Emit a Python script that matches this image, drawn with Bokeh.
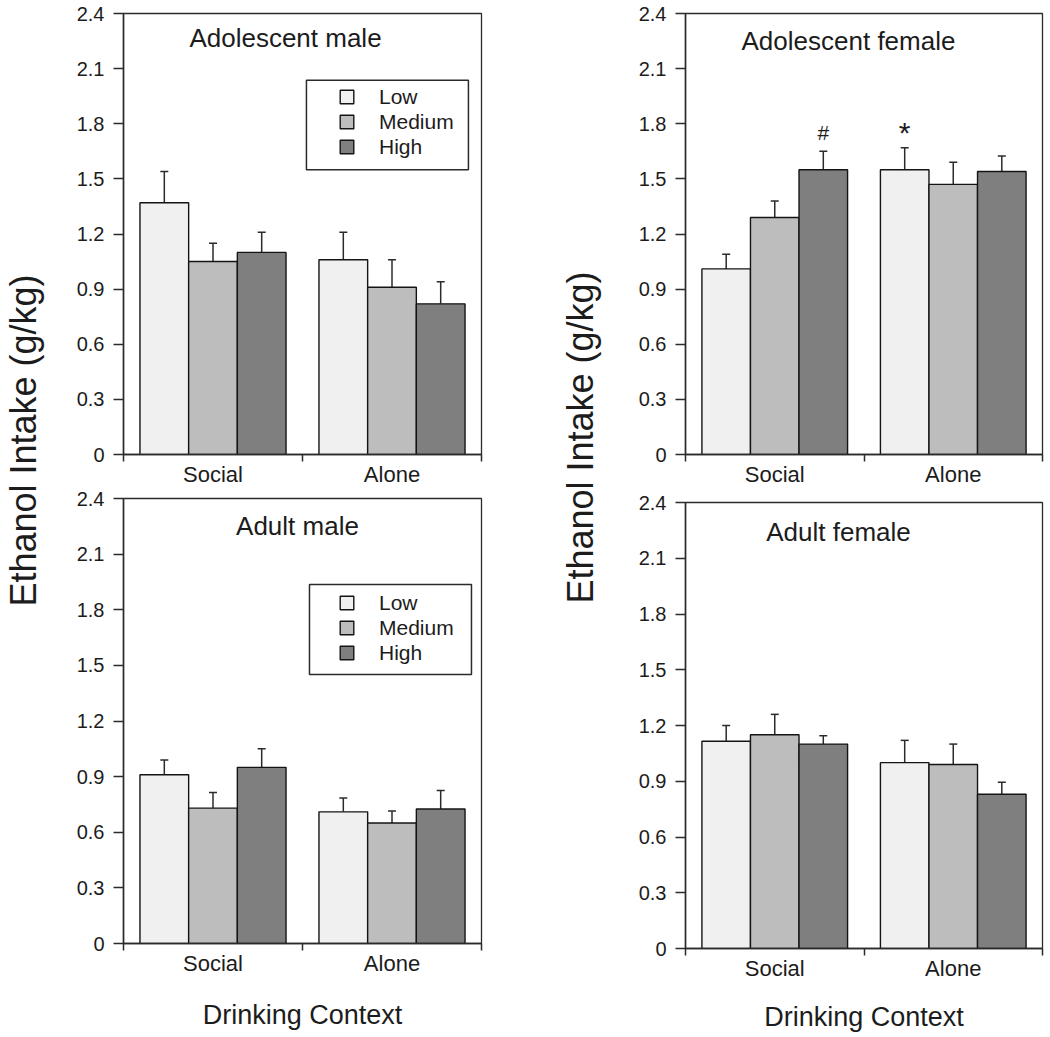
import math
from bokeh.plotting import figure
from bokeh.models import (ColumnDataSource, Range1d, FixedTicker, Whisker, TeeHead,
                          Label, BoxAnnotation)
from bokeh.layouts import row, column
from bokeh.embed import file_html
from bokeh.resources import INLINE

# ---------------- data ----------------
contexts = ["Social", "Alone"]
levels = ["Low", "Medium", "High"]
y_ticks = [0, 0.3, 0.6, 0.9, 1.2, 1.5, 1.8, 2.1, 2.4]
y_tick_labels = ["0", "0.3", "0.6", "0.9", "1.2", "1.5", "1.8", "2.1", "2.4"]
x_axis_title = "Drinking Context"
y_axis_title = "Ethanol Intake (g/kg)"

# mean ethanol intake (g/kg), one list per level, values for [Social, Alone]
adol_male_low = [1.37, 1.06]
adol_male_medium = [1.05, 0.91]
adol_male_high = [1.10, 0.82]
adol_male_low_sem = [0.17, 0.15]
adol_male_medium_sem = [0.10, 0.15]
adol_male_high_sem = [0.11, 0.12]

adol_female_low = [1.01, 1.55]
adol_female_medium = [1.29, 1.47]
adol_female_high = [1.55, 1.54]
adol_female_low_sem = [0.08, 0.12]
adol_female_medium_sem = [0.09, 0.12]
adol_female_high_sem = [0.10, 0.085]

adult_male_low = [0.91, 0.71]
adult_male_medium = [0.73, 0.65]
adult_male_high = [0.95, 0.725]
adult_male_low_sem = [0.08, 0.075]
adult_male_medium_sem = [0.085, 0.065]
adult_male_high_sem = [0.10, 0.10]

adult_female_low = [1.115, 1.00]
adult_female_medium = [1.15, 0.99]
adult_female_high = [1.10, 0.83]
adult_female_low_sem = [0.085, 0.12]
adult_female_medium_sem = [0.11, 0.11]
adult_female_high_sem = [0.045, 0.065]

# significance markers, adolescent female panel: (context, level, symbol)
adol_female_marks = [("Social", "High", "#"), ("Alone", "Low", "*")]

# ---------------- style ----------------
FONT = "Liberation Sans"
TXT = "#1c1c1c"
AX = "#2b2b2b"
BAR_LINE = "#141414"
level_colors = ["#f0f0f0", "#bdbdbd", "#7f7f7f"]
BAR_W = 0.272
TOTAL_H = 1037


def panel(name, means, sems, width, height, borders, title_xy,
          legend_spec=None, xlabel=None, xlabel_standoff=20, marks=None):
    bl, br, bt, bb = borders
    n = len(contexts)
    centers = [i + 0.5 for i in range(n)]
    edges = list(range(n + 1))
    p = figure(width=width, height=height, title=None,
               x_range=Range1d(0, n), y_range=Range1d(y_ticks[0], y_ticks[-1]),
               output_backend="svg", toolbar_location=None,
               min_border_left=bl, min_border_right=br,
               min_border_top=bt, min_border_bottom=bb)
    p.grid.visible = False
    p.outline_line_color = AX
    p.outline_line_width = 1.3
    p.outline_line_alpha = 1.0

    offsets = [(j - (len(levels) - 1) / 2) * BAR_W for j in range(len(levels))]
    uppers_all = []
    for j, lvl in enumerate(levels):
        uppers = [m + s for m, s in zip(means[j], sems[j])]
        uppers_all.append(uppers)
        src = ColumnDataSource(dict(
            xb=[c + offsets[j] for c in centers],
            top=means[j],
            upper=uppers,
        ))
        kw = dict(legend_label=lvl) if legend_spec else {}
        p.vbar(x="xb", top="top", bottom=0, width=BAR_W, source=src,
               fill_color=level_colors[j], line_color=BAR_LINE, line_width=1.4, **kw)
        p.add_layout(Whisker(base="xb", lower="top", upper="upper", source=src,
                             dimension="height", line_color=AX, line_width=1.5,
                             lower_head=None,
                             upper_head=TeeHead(size=8, line_color=AX, line_width=1.5)))

    # axes
    p.axis.axis_line_color = AX
    p.axis.axis_line_width = 1.5
    p.axis.major_tick_line_color = AX
    p.axis.major_tick_line_width = 1.5
    p.axis.major_label_text_font = FONT
    p.axis.major_label_text_color = TXT

    xa = p.xaxis[0]
    xa.ticker = FixedTicker(ticks=centers, minor_ticks=edges)
    xa.major_label_overrides = {c: t for c, t in zip(centers, contexts)}
    xa.major_tick_out = 0
    xa.major_tick_in = 0
    xa.minor_tick_out = 7
    xa.minor_tick_in = 0
    xa.minor_tick_line_color = AX
    xa.minor_tick_line_width = 1.5
    xa.major_label_standoff = 0
    xa.major_label_text_font_size = "22px"

    ya = p.yaxis[0]
    ya.ticker = FixedTicker(ticks=y_ticks)
    ya.major_label_overrides = dict(zip(y_ticks, y_tick_labels))
    ya.major_tick_out = 10
    ya.major_tick_in = 0
    ya.minor_tick_out = 0
    ya.minor_tick_in = 0
    ya.major_label_standoff = 9
    ya.major_label_text_font_size = "20px"

    if xlabel:
        xa.axis_label = xlabel
        xa.axis_label_text_font = FONT
        xa.axis_label_text_font_size = "27px"
        xa.axis_label_text_font_style = "normal"
        xa.axis_label_text_color = TXT
        xa.axis_label_standoff = xlabel_standoff

    p.add_layout(Label(x=title_xy[0], y=title_xy[1], text=name,
                       text_align="center", text_baseline="middle",
                       text_font=FONT, text_font_size="26px", text_color=TXT))

    if legend_spec:
        (vx, vy), (l0, r0, t0, b0) = legend_spec
        lg = p.legend[0]
        lg.location = (vx, vy)
        lg.border_line_color = None
        lg.background_fill_alpha = 0
        lg.padding = 0
        lg.margin = 0
        lg.spacing = 0
        lg.glyph_width = 17
        lg.glyph_height = 17
        lg.label_height = 25
        lg.label_standoff = 24
        lg.label_text_font = FONT
        lg.label_text_font_size = "21px"
        lg.label_text_color = TXT
        p.add_layout(BoxAnnotation(left=l0, right=r0, top=t0, bottom=b0,
                                   fill_color=None, fill_alpha=0,
                                   line_color=AX, line_alpha=1.0, line_width=1.5))

    if marks:
        level_y = max(max(u) for u in uppers_all) + 0.08
        for ctx, lvl, sym in marks:
            i = contexts.index(ctx)
            j = levels.index(lvl)
            p.add_layout(Label(x=centers[i] + offsets[j], y=level_y, text=sym,
                               text_align="center", text_baseline="alphabetic",
                               text_font=FONT,
                               text_font_size="21px" if sym == "#" else "30px",
                               text_color=TXT))
    return p


def label_fig(width, cx, cy):
    p = figure(width=width, height=TOTAL_H, title=None,
               x_range=Range1d(0, width), y_range=Range1d(0, TOTAL_H),
               min_border=0, x_axis_location=None, y_axis_location=None,
               toolbar_location=None, output_backend="svg")
    p.grid.visible = False
    p.outline_line_color = None
    p.add_layout(Label(x=cx, y=TOTAL_H - cy, text=y_axis_title,
                       angle=math.pi / 2, text_align="center", text_baseline="middle",
                       text_font=FONT, text_font_size="36px", text_color=TXT))
    return p


tl = panel("Adolescent male",
           [adol_male_low, adol_male_medium, adol_male_high],
           [adol_male_low_sem, adol_male_medium_sem, adol_male_high_sem],
           444, 489, (77, 9, 13, 34), (0.905, 2.264),
           legend_spec=((215, 295), (1.022, 1.927, 2.037, 1.549)))
bl = panel("Adult male",
           [adult_male_low, adult_male_medium, adult_male_high],
           [adult_male_low_sem, adult_male_medium_sem, adult_male_high_sem],
           444, 548, (77, 9, 9, 94), (0.972, 2.249),
           legend_spec=((215, 278), (1.039, 1.944, 1.936, 1.451)),
           xlabel=x_axis_title, xlabel_standoff=21)
tr = panel("Adolescent female",
           [adol_female_low, adol_female_medium, adol_female_high],
           [adol_female_low_sem, adol_female_medium_sem, adol_female_high_sem],
           440, 489, (75, 8, 13, 34), (0.913, 2.248), marks=adol_female_marks)
br = panel("Adult female",
           [adult_female_low, adult_female_medium, adult_female_high],
           [adult_female_low_sem, adult_female_medium_sem, adult_female_high_sem],
           440, 548, (75, 8, 13, 89), (0.857, 2.239),
           xlabel=x_axis_title, xlabel_standoff=18)

left_label = label_fig(46, 23, 440)
right_label = label_fig(120, 90, 437)

layout = row(left_label, column(tl, bl), right_label, column(tr, br))

open("out.html", "w").write(file_html(layout, INLINE))
